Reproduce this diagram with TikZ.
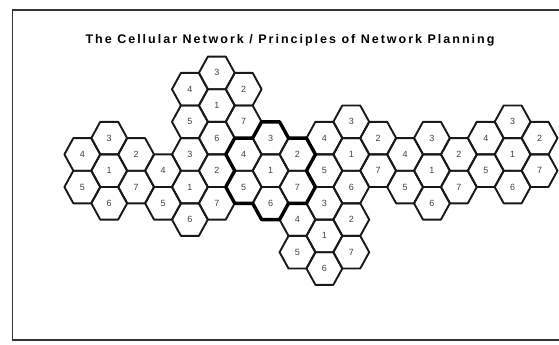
\documentclass[tikz,border=0pt]{standalone}
\usepackage{fontspec}
\setmainfont{Liberation Sans}
\newfontfamily\titlefont[LetterSpace=16]{Liberation Sans}
\usepackage{tikz}

\begin{document}
\begin{tikzpicture}[
    x=1pt, y=-1pt,
    frame/.style={draw=black!80, line width=1.4pt},
    cell/.style={draw=black!90, line width=1.9pt, line join=round},
    reuse/.style={draw=black, line width=3.4pt, line join=round},
    num/.style={font=\fontsize{9}{10}\selectfont, text=black!75, inner sep=0pt},
    heading/.style={font=\titlefont\bfseries\fontsize{12.5}{15}\selectfont, inner sep=0pt}
]
\useasboundingbox (0,0) rectangle (559,345);
\clip (0,0) rectangle (559,345);

% Frame
\draw[frame] (570,10) -- (12.5,10) -- (12.5,340) -- (570,340);

% Title
\node[heading] (title) at (290,40) {The Cellular Network / Principles of Network Planning};

% Clusters of seven cells
\begin{scope}[shift={(216.8,105.5)}, x=17.93pt, y=-16.3pt]
\foreach \cl/\c/\h in {A/0/0, B/-4/4, C/-1/5, D/2/4, E/5/3, F/4/8, G/8/4, H/11/3}{
  \foreach \k/\dc/\dh in {1/0/0, 2/1/-1, 3/0/-2, 4/-1/-1, 5/-1/1, 6/0/2, 7/1/1}{
    \pgfmathsetmacro\px{1.5*(\c+\dc)}
    \pgfmathsetmacro\py{\h+\dh}
    \draw[cell] (\px+1,\py) -- ++(-.5,-1) -- ++(-1,0) -- ++(-.5,1) -- ++(.5,1) -- ++(1,0) -- cycle;
    \node[num] (\cl\k) at (\px,\py) {\k};
  }
}

% Outline of the middle cluster
\begin{scope}[shift={(D1)}]
\draw[reuse] (-1,-2) -- (-.5,-3) -- (.5,-3) -- (1,-2) -- (2,-2) -- (2.5,-1) -- (2,0)
  -- (2.5,1) -- (2,2) -- (1,2) -- (.5,3) -- (-.5,3) -- (-1,2) -- (-2,2)
  -- (-2.5,1) -- (-2,0) -- (-2.5,-1) -- (-2,-2) -- cycle;
\end{scope}
\end{scope}

\end{tikzpicture}
\end{document}
